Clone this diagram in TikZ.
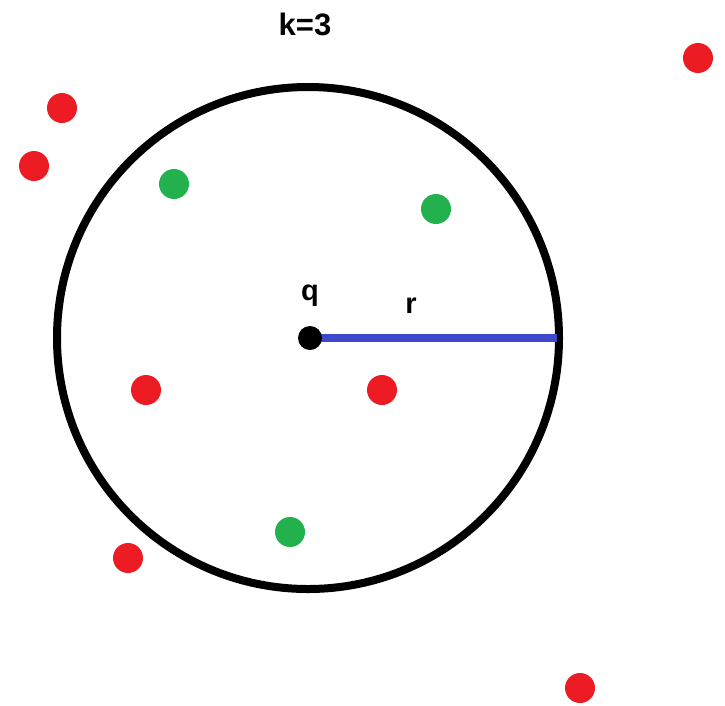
\documentclass[tikz,border=0pt]{standalone}
\usepackage{fontspec}
\setmainfont{Liberation Sans}
\definecolor{pred}{RGB}{237,28,36}
\definecolor{pgreen}{RGB}{34,177,76}
\definecolor{pblue}{RGB}{63,72,204}
\begin{document}
\begin{tikzpicture}[x=1pt,y=-1pt,
  reddot/.style={circle,fill=pred,minimum size=30pt,inner sep=0pt},
  greendot/.style={circle,fill=pgreen,minimum size=30pt,inner sep=0pt},
  lbl/.style={font=\fontsize{31}{31}\selectfont\bfseries,anchor=base,inner sep=0pt}]
\useasboundingbox[fill=white] (0,0) rectangle (725,705);
\node[lbl] (k) at (305,35) {k=3};
\node[draw=black,line width=8pt,circle,minimum size=502pt,inner sep=0pt] (c) at (308,338) {};
\coordinate (qc) at (310,338);
\coordinate (e) at (557,338);
\draw[pblue,line width=8pt] (qc) -- (e);
\node[circle,fill=black,minimum size=24pt,inner sep=0pt] (q) at (qc) {};
\node[lbl,font=\fontsize{29}{29}\selectfont\bfseries] (ql) at (310,300) {q};
\node[lbl,font=\fontsize{29}{29}\selectfont\bfseries] (rl) at (411,313) {r};
\node[reddot] (r1) at (62,108) {};
\node[reddot] (r2) at (34,166) {};
\node[greendot] (g1) at (174,184) {};
\node[greendot] (g2) at (436,209) {};
\node[reddot] (r3) at (698,58) {};
\node[reddot] (r4) at (146,390) {};
\node[reddot] (r5) at (382,390) {};
\node[greendot] (g3) at (290,532) {};
\node[reddot] (r6) at (128,558) {};
\node[reddot] (r7) at (580,688) {};
\end{tikzpicture}
\end{document}
